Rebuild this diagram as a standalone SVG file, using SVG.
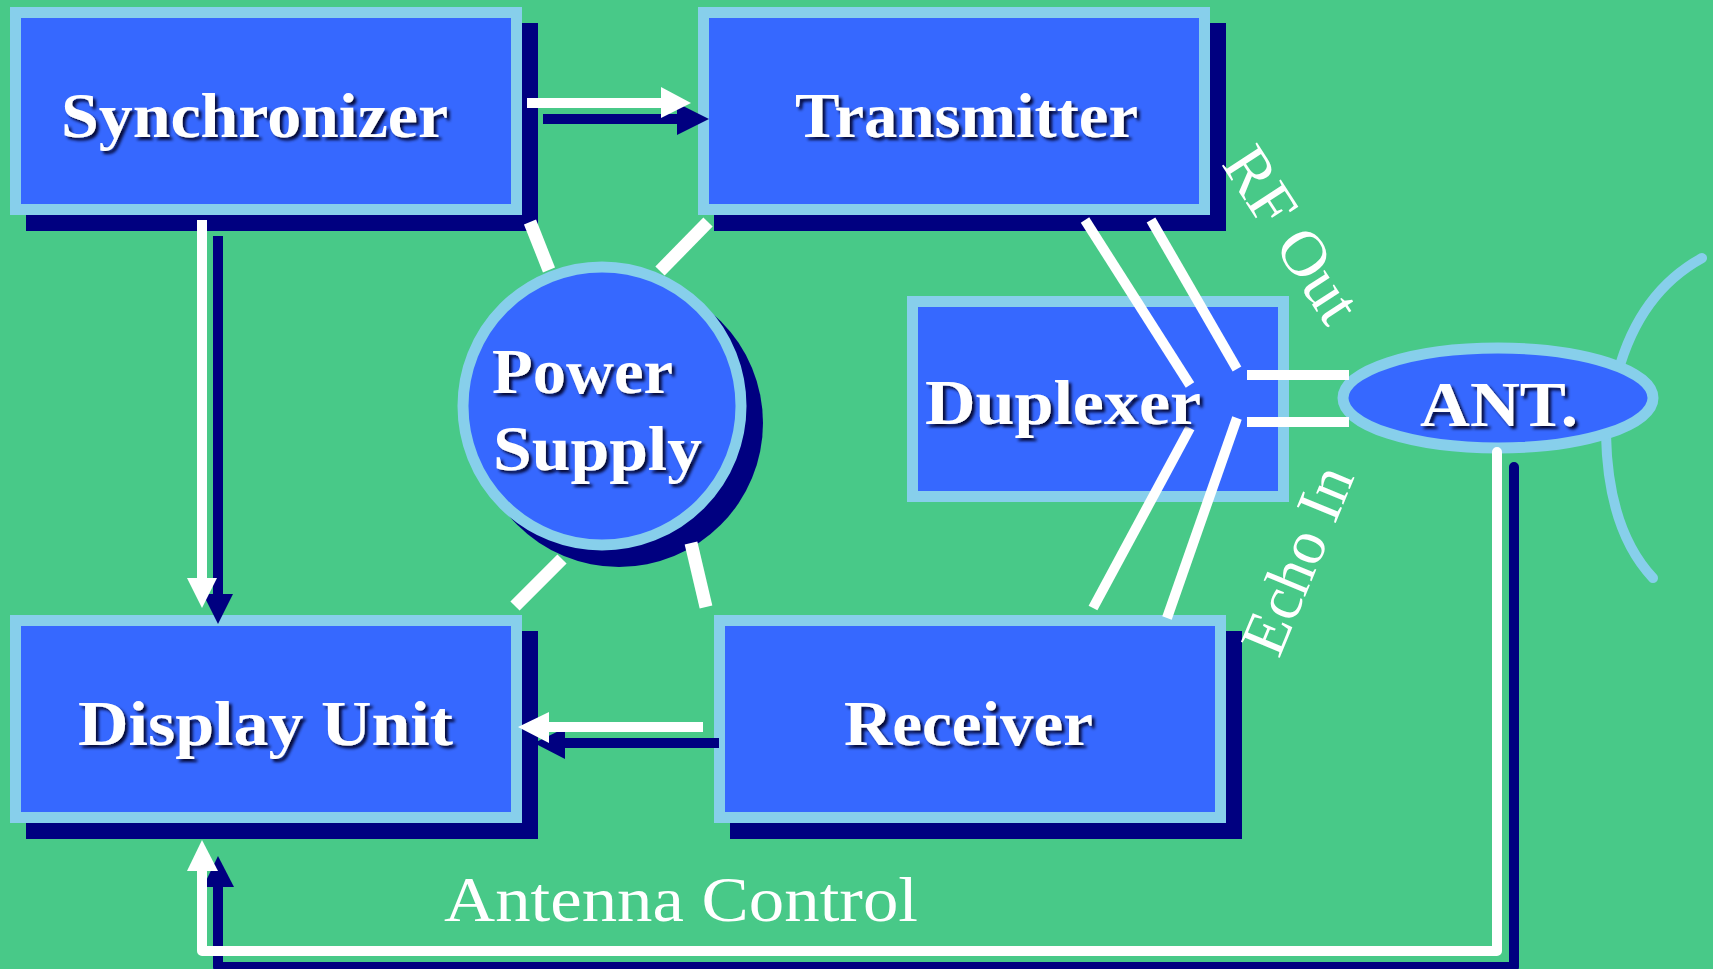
<svg xmlns="http://www.w3.org/2000/svg" width="1713" height="969" viewBox="0 0 1713 969">
<defs>
<filter id="ts" x="-10%" y="-20%" width="130%" height="150%">
<feDropShadow dx="3" dy="3" stdDeviation="1.5" flood-color="#000022" flood-opacity="0.9"/>
</filter>
</defs>
<style>
.box{fill:#3668FF;stroke:#87CFEB;stroke-width:11}
.shadow{fill:#000080}
.lbl{font-family:"Liberation Serif","Times New Roman",serif;font-weight:bold;font-size:64px;fill:#fff;filter:url(#ts)}
.plain{font-family:"Liberation Serif","Times New Roman",serif;font-size:64px;fill:#fff}
.wl{stroke:#fff;fill:none;stroke-width:10}
.nl{stroke:#000080;fill:none;stroke-width:10}
.wh{fill:#fff}
.nh{fill:#000080}
.ps{stroke:#fff;stroke-width:13;fill:none}
.arc{stroke:#87CFEB;stroke-width:10;fill:none;stroke-linecap:round}
</style>
<rect x="0" y="0" width="1713" height="969" fill="#48C988"/>

<g id="antenna-arcs">
<path class="arc" d="M1618,372 Q1640,292 1702,258"/>
<path class="arc" d="M1606,435 Q1608,530 1653,578"/>
</g>

<g id="synchronizer">
<rect class="shadow" x="26" y="23" width="512" height="208"/>
<rect class="box" x="15.5" y="12.5" width="501" height="197"/>
<text class="lbl" x="61" y="137" textLength="387" lengthAdjust="spacingAndGlyphs">Synchronizer</text>
</g>

<g id="transmitter">
<rect class="shadow" x="714" y="23" width="512" height="208"/>
<rect class="box" x="703.5" y="12.5" width="501" height="197"/>
<text class="lbl" x="795" y="137" textLength="343" lengthAdjust="spacingAndGlyphs">Transmitter</text>
</g>

<g id="display-unit">
<rect class="shadow" x="26" y="631" width="512" height="208"/>
<rect class="box" x="15.5" y="620.5" width="501" height="197"/>
<text class="lbl" x="78" y="745" textLength="375" lengthAdjust="spacingAndGlyphs">Display Unit</text>
</g>

<g id="receiver">
<rect class="shadow" x="730" y="631" width="512" height="208"/>
<rect class="box" x="719.5" y="620.5" width="501" height="197"/>
<text class="lbl" x="844" y="745" textLength="249" lengthAdjust="spacingAndGlyphs">Receiver</text>
</g>

<g id="power-supply">
<circle class="shadow" cx="619" cy="423" r="144"/>
<circle class="box" cx="602" cy="406" r="139" stroke-width="10"/>
<text class="lbl" x="492" y="393" textLength="181" lengthAdjust="spacingAndGlyphs">Power</text>
<text class="lbl" x="493" y="470" textLength="209" lengthAdjust="spacingAndGlyphs">Supply</text>
</g>

<g id="duplexer">
<rect class="box" x="912.5" y="301.5" width="371" height="195"/>
</g>

<g id="antenna">
<ellipse class="box" cx="1498" cy="398" rx="155" ry="50" stroke-width="10"/>
<text class="lbl" x="1420" y="426" font-size="68" textLength="158" lengthAdjust="spacingAndGlyphs">ANT.</text>
</g>

<g id="connectors">
<!-- Synchronizer -> Transmitter -->
<line class="nl" x1="543" y1="119" x2="679" y2="119"/>
<polygon class="nh" points="677,103 709,119 677,135"/>
<line class="wl" x1="527" y1="103" x2="663" y2="103"/>
<polygon class="wh" points="661,87 691,103 661,118"/>
<!-- Synchronizer -> Display Unit -->
<line class="nl" x1="218" y1="236" x2="218" y2="596"/>
<polygon class="nh" points="203,594 233,594 218,624"/>
<line class="wl" x1="202" y1="220" x2="202" y2="580"/>
<polygon class="wh" points="187,578 217,578 202,608"/>
<!-- Receiver -> Display Unit -->
<line class="nl" x1="719" y1="743" x2="563" y2="743"/>
<polygon class="nh" points="565,728 565,759 534,743"/>
<line class="wl" x1="703" y1="727" x2="547" y2="727"/>
<polygon class="wh" points="549,712 549,743 518,727"/>
<!-- Antenna Control -->
<path class="nl" d="M1514,467 V967 H218 V885" stroke-linejoin="round" stroke-linecap="round"/>
<polygon class="nh" points="203,887 234,887 218,856"/>
<path class="wl" d="M1497,452 V951 H202 V869" stroke-linejoin="round" stroke-linecap="round"/>
<polygon class="wh" points="187,871 218,871 202,840"/>
<!-- Power supply links -->
<line class="ps" x1="530" y1="222" x2="549" y2="270"/>
<line class="ps" x1="708" y1="222" x2="660" y2="271"/>
<line class="ps" x1="562" y1="559" x2="515" y2="606"/>
<line class="ps" x1="691" y1="543" x2="706" y2="607"/>
<!-- Duplexer paths -->
<line class="wl" x1="1085" y1="220" x2="1190" y2="385"/>
<line class="wl" x1="1151" y1="220" x2="1237" y2="369"/>
<line class="wl" x1="1190" y1="428" x2="1093" y2="608"/>
<line class="wl" x1="1237" y1="418" x2="1167" y2="618"/>
<line class="wl" x1="1247" y1="375" x2="1349" y2="375"/>
<line class="wl" x1="1247" y1="422" x2="1349" y2="422"/>
</g>

<g id="labels">
<text class="lbl" x="925" y="424" textLength="276" lengthAdjust="spacingAndGlyphs">Duplexer</text>
<text class="plain" x="444" y="921" font-size="66" textLength="474" lengthAdjust="spacingAndGlyphs">Antenna Control</text>
<text class="plain" text-anchor="middle" font-size="66" transform="translate(1274,246) rotate(57)" textLength="196" lengthAdjust="spacingAndGlyphs">RF Out</text>
<text class="plain" text-anchor="middle" transform="translate(1317,568) rotate(-67.5)" textLength="198" lengthAdjust="spacingAndGlyphs">Echo In</text>
</g>
</svg>
